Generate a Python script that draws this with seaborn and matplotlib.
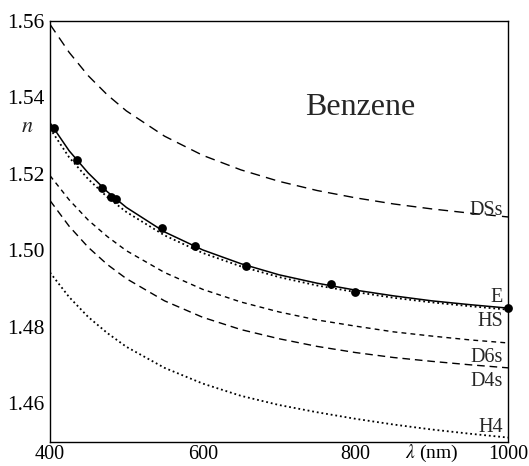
import matplotlib
matplotlib.use("Agg")
import matplotlib.pyplot as plt
import seaborn as sns
import pandas as pd

# Wavelength grid (nm) at which the curves are tabulated
wavelength = [400, 425, 450, 475, 500, 550, 600, 650, 700, 750, 800, 850, 900, 950, 1000]

# Refractive index curves for benzene
n_DSs = [1.5590, 1.5517, 1.5456, 1.5406, 1.5364, 1.5298, 1.5248, 1.5210, 1.5180,
         1.5156, 1.5137, 1.5121, 1.5108, 1.5097, 1.5087]
n_E = [1.5333, 1.5260, 1.5202, 1.5153, 1.5112, 1.5048, 1.5001, 1.4965, 1.4936,
       1.4914, 1.4896, 1.4881, 1.4868, 1.4858, 1.4849]
n_HS = [1.5318, 1.5243, 1.5186, 1.5139, 1.5100, 1.5039, 1.4993, 1.4958, 1.4930,
        1.4908, 1.4891, 1.4876, 1.4864, 1.4854, 1.4845]
n_D6s = [1.5195, 1.5132, 1.5079, 1.5036, 1.4999, 1.4942, 1.4898, 1.4865, 1.4839,
         1.4818, 1.4802, 1.4787, 1.4776, 1.4766, 1.4758]
n_D4s = [1.5130, 1.5063, 1.5008, 1.4963, 1.4926, 1.4868, 1.4825, 1.4793, 1.4769,
         1.4749, 1.4733, 1.4720, 1.4710, 1.4701, 1.4693]
n_H4 = [1.4942, 1.4878, 1.4826, 1.4784, 1.4748, 1.4693, 1.4652, 1.4620, 1.4596,
        1.4577, 1.4560, 1.4545, 1.4532, 1.4521, 1.4511]

# Experimental points
exp_wavelength = [404.7, 435.8, 467.8, 480.0, 486.1, 546.1, 589.3, 656.3, 768.2, 800.0, 1000.0]
exp_n = [1.5320, 1.5236, 1.5162, 1.5140, 1.5133, 1.5058, 1.5010, 1.4960, 1.4912, 1.4891, 1.4849]

x_ticks = [400, 600, 800, 1000]
x_minor = [500, 700, 900]
y_ticks = [1.46, 1.48, 1.50, 1.52, 1.54, 1.56]
y_minor = [1.45, 1.47, 1.49, 1.51, 1.53, 1.55]

sns.set_theme(style="white")
plt.rcParams["font.family"] = ["Liberation Serif", "DejaVu Serif"]
plt.rcParams["mathtext.fontset"] = "stix"

fig = plt.figure(figsize=(5.29, 4.66), dpi=100)
ax = fig.add_axes([0.0945, 0.052, 0.866, 0.904])

curves = [
    ("DSs", n_DSs, (0, (7, 4.5)), 1.0),
    ("E", n_E, "-", 1.1),
    ("HS", n_HS, (0, (1, 1.6)), 1.3),
    ("D6s", n_D6s, (0, (3.5, 3)), 1.0),
    ("D4s", n_D4s, (0, (5.5, 3.5)), 1.0),
    ("H4", n_H4, (0, (1, 1.6)), 1.3),
]
for name, vals, ls, lw in curves:
    df = pd.DataFrame({"wavelength": wavelength, "n": vals})
    sns.lineplot(data=df, x="wavelength", y="n", ax=ax, color="black",
                 linestyle=ls, linewidth=lw, estimator=None, sort=True)

pts = pd.DataFrame({"wavelength": exp_wavelength, "n": exp_n})
sns.scatterplot(data=pts, x="wavelength", y="n", ax=ax, color="black",
                s=40, edgecolor="black", linewidth=0, zorder=5, clip_on=False)

ax.set_xlim(400, 1000)
ax.set_ylim(1.45, 1.56)
ax.set_xticks(x_ticks)
ax.set_xticklabels([str(v) for v in x_ticks])
ax.set_xticks(x_minor, minor=True)
# the wavelength axis title sits in the tick-label row, at the 900 nm minor tick
ax.set_xticklabels(["", "", r"$\lambda$ (nm)"], minor=True)
ax.set_yticks(y_ticks)
ax.set_yticklabels([f"{v:.2f}" for v in y_ticks])
ax.set_yticks(y_minor, minor=True)
ax.tick_params(which="both", direction="in", top=False, right=False,
               colors="black", width=0.8)
ax.tick_params(axis="y", which="both", labelsize=15.5, pad=4)
ax.tick_params(axis="x", which="major", labelsize=14.5, pad=2)
ax.tick_params(axis="x", which="minor", labelsize=14, pad=0.5)
ax.tick_params(which="major", length=5)
ax.tick_params(which="minor", length=3)
ax.set_xlabel("")
ax.set_ylabel("")
for sp in ax.spines.values():
    sp.set_color("black")
    sp.set_linewidth(1.0)

ax.text(-0.05, 0.745, "$n$", transform=ax.transAxes, fontsize=16,
        ha="center", va="center")

ax.text(806, 1.5373, "Benzene", fontsize=23, ha="center", va="center")

# Curve names at the right edge
label_pos = [("DSs", 1.5104), ("E", 1.4876), ("HS", 1.4815), ("D6s", 1.4720),
             ("D4s", 1.4658), ("H4", 1.4538)]
for name, y in label_pos:
    ax.text(993, y, name, fontsize=14.5, ha="right", va="center")

fig.savefig("out.png", dpi=100)
